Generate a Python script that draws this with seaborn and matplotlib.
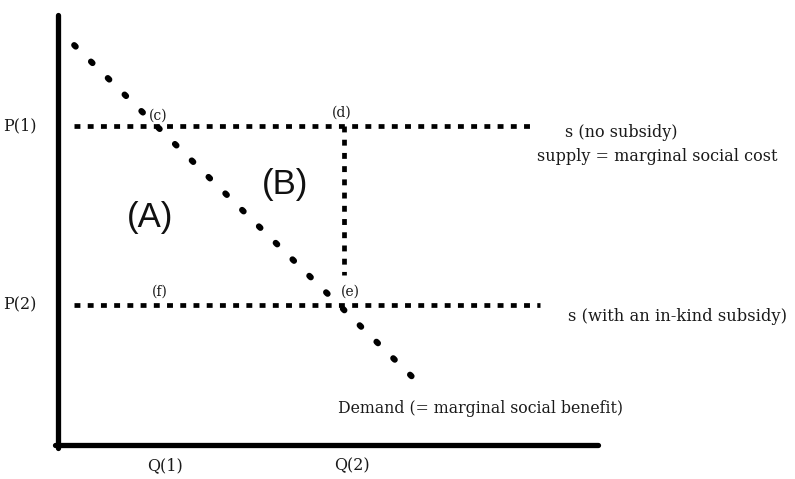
import matplotlib
matplotlib.use("Agg")
import matplotlib.pyplot as plt
import seaborn as sns
import pandas as pd

# ---- data (economic units) ----
demand_q = [3, 67.5]
demand_p = [93, 13.5]
price_levels = {"P(1)": 74.2, "P(2)": 32.6}
supply_q_range = {"P(1)": [3, 87.4], "P(2)": [3, 89.3]}
q2 = 53.0
vert_p = [74.2, 39.5]
axis_max = 100

point_labels = ["(c)", "(d)", "(e)", "(f)"]
point_q = [18.5, 52.6, 54.1, 18.9]
point_p = [76.7, 77.2, 35.6, 35.6]

qty_labels = ["Q(1)", "Q(2)"]
qty_pos = [19.8, 54.4]

area_labels = ["(A)", "(B)"]
area_q = [17.0, 42.0]
area_p = [53.0, 60.5]

sns.set_theme(style="white")
plt.rcParams["font.family"] = ["DejaVu Serif", "Liberation Serif"]

fig = plt.figure(figsize=(7.95, 4.79), dpi=100)
ax = fig.add_axes([0, 0, 1, 1])
ax.set_xlim(-10.74, 136.48)
ax.set_ylim(-7.91, 103.49)
ax.axis("off")

# axes lines
sns.lineplot(x=[0, 0], y=[-0.7, axis_max], color="black", lw=3.8, ax=ax, sort=False, estimator=None)
sns.lineplot(x=[-0.6, axis_max], y=[0, 0], color="black", lw=3.8, ax=ax, sort=False, estimator=None)

# supply lines
for key, p in price_levels.items():
    qs = supply_q_range[key]
    sns.lineplot(x=qs, y=[p, p], color="black", lw=3.4, ax=ax, sort=False, estimator=None)
    ax.lines[-1].set_dashes((1.25, 1.55))

# vertical line at Q(2)
sns.lineplot(x=[q2, q2], y=vert_p, color="black", lw=3.4, ax=ax, sort=False, estimator=None)
ax.lines[-1].set_dashes((1.25, 1.55))

# demand
df = pd.DataFrame({"q": demand_q, "p": demand_p})
sns.lineplot(data=df, x="q", y="p", color="black", lw=4.4, ax=ax, sort=False, estimator=None)
ax.lines[-1].set_dashes((0.35, 3.5))
ax.lines[-1].set_dash_capstyle("round")

# labels
tc = "#1a1a1a"
for key, p in price_levels.items():
    ax.text(-7.0, p, key, ha="center", va="center", fontsize=11.5, color=tc)
for lab, q in zip(qty_labels, qty_pos):
    ax.text(q, -4.8, lab, ha="center", va="center", fontsize=11.5, color=tc)
for lab, q, p in zip(point_labels, point_q, point_p):
    ax.text(q, p, lab, ha="center", va="center", fontsize=10, color=tc)
for lab, q, p in zip(area_labels, area_q, area_p):
    ax.text(q, p, lab, ha="center", va="center", fontsize=25, color="#111111",
            family=["Liberation Sans", "DejaVu Sans"])

ax.text(93.9, 72.6, "s (no subsidy)", ha="left", va="center", fontsize=11.5, color=tc)
ax.text(88.7, 67.2, "supply = marginal social cost", ha="left", va="center", fontsize=11.5, color=tc)
ax.text(94.4, 29.8, "s (with an in-kind subsidy)", ha="left", va="center", fontsize=11.8, color=tc)
ax.text(51.9, 8.6, "Demand (= marginal social benefit)", ha="left", va="center", fontsize=11.3, color=tc)

fig.savefig("out.png", dpi=100)
